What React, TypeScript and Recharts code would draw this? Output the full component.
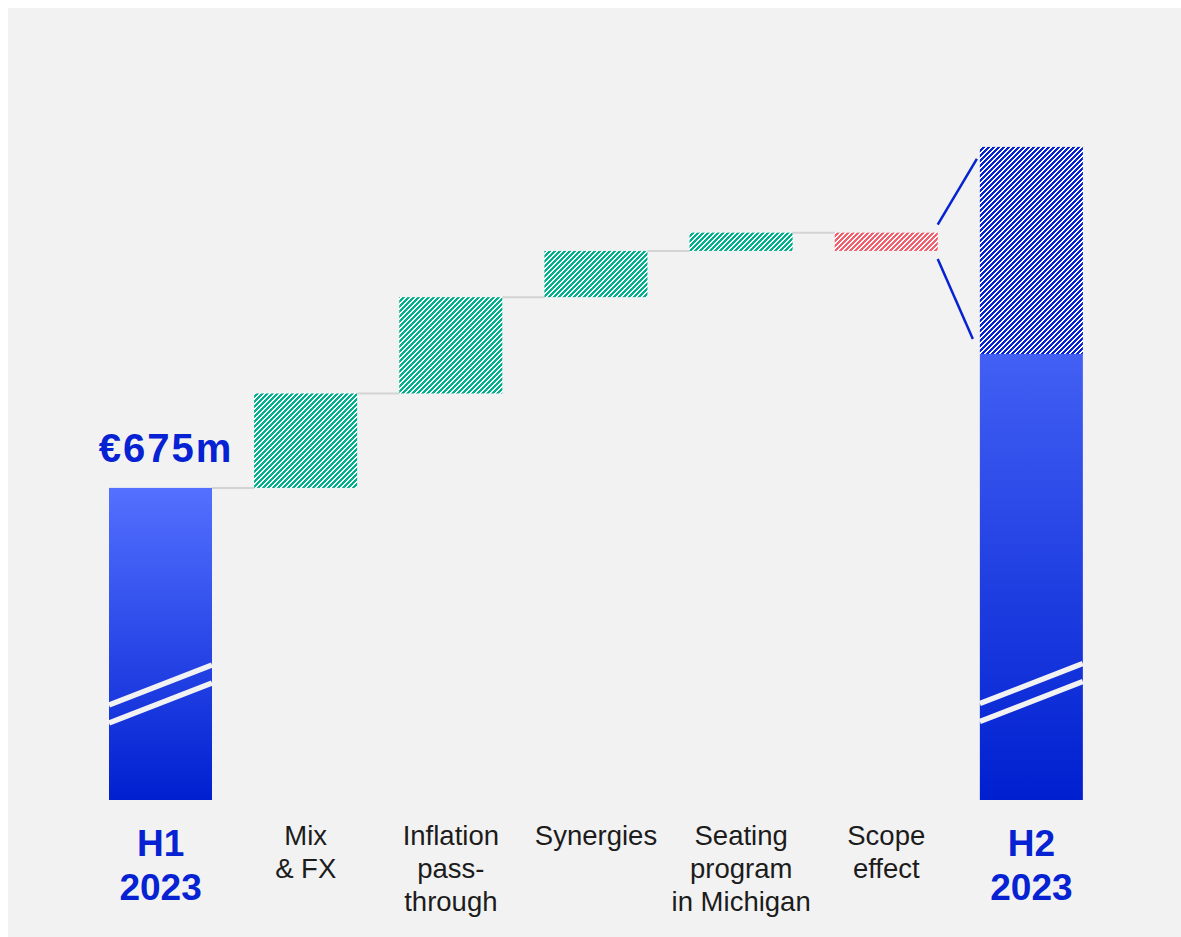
import { BarChart, Bar, XAxis, YAxis, LabelList } from "recharts";

const categories = [
  "H1\n2023",
  "Mix\n& FX",
  "Inflation\npass-\nthrough",
  "Synergies",
  "Seating\nprogram\nin Michigan",
  "Scope\neffect",
  "H2\n2023",
];
const h1Value = 675;
const bridgeDeltas = [98, 100, 48, 19, -19];
const h2Solid = 814;
const h2Hatched = 215;
const h1Label = "€675m";

const AXIS_MIN = 351;
const AXIS_MAX = 1100;

const W = 1173;
const H = 929;
const MARGIN = { top: 70.5, right: 77, bottom: 7, left: 80 };
const BAR_SIZE = 103;
const BAND = (W - MARGIN.left - MARGIN.right) / categories.length;
const GAP = BAND - BAR_SIZE;

const BLUE = "#0622d2";
const GREEN = "#00b08c";
const RED = "#f0606e";
const CONNECTOR = "#d3d3d3";
const FONT = "'Liberation Sans', Arial, sans-serif";

// waterfall rows: invisible base + visible pieces
type Row = { name: string; kind: string; base: number; total: number; up: number; down: number; hatch: number };
const rows: Row[] = [];
let level = h1Value;
rows.push({ name: categories[0], kind: "total", base: 0, total: h1Value, up: 0, down: 0, hatch: 0 });
const levels: number[] = [];
bridgeDeltas.forEach((d, i) => {
  const next = level + d;
  levels.push(next);
  rows.push({
    name: categories[i + 1],
    kind: "step",
    base: Math.min(level, next),
    total: 0,
    up: d > 0 ? d : 0,
    down: d < 0 ? -d : 0,
    hatch: 0,
  });
  level = next;
});
rows.push({ name: categories[6], kind: "total", base: 0, total: h2Solid, up: 0, down: 0, hatch: h2Hatched });

const scopeTop = levels[levels.length - 2];
const scopeBottom = levels[levels.length - 1];

// solid totals: bar is clipped at the axis floor, break marks sit above it
const TotalShape = (props: any) => {
  const { x, y, width, height, index } = props;
  if (!height || height <= 0) return <g />;
  const floorY = y + height;
  const off = index === 0 ? 0 : 1.5;
  return (
    <g>
      <rect x={x} y={y} width={width} height={height} fill={index === 0 ? "url(#gradH1)" : "url(#gradH2)"} />
      <line x1={x} y1={floorY - 95 - off} x2={x + width} y2={floorY - 135 - off} stroke="#f2f2f2" strokeWidth={5.5} />
      <line x1={x} y1={floorY - 77 - off} x2={x + width} y2={floorY - 117 - off} stroke="#f2f2f2" strokeWidth={5.5} />
      {index === 0 && (
        <line x1={x + width} y1={y} x2={x + width + GAP} y2={y} stroke={CONNECTOR} strokeWidth={2} />
      )}
    </g>
  );
};

const UpShape = (props: any) => {
  const { x, y, width, height } = props;
  if (!height || height <= 0) return <g />;
  return (
    <g>
      <rect x={x} y={y} width={width} height={height} fill="url(#hatchGreen)" />
      <line x1={x + width} y1={y} x2={x + width + GAP} y2={y} stroke={CONNECTOR} strokeWidth={2} />
    </g>
  );
};

const DownShape = (props: any) => {
  const { x, y, width, height } = props;
  if (!height || height <= 0) return <g />;
  return <rect x={x} y={y} width={width} height={height} fill="url(#hatchRed)" />;
};

const HatchShape = (props: any) => {
  const { x, y, width, height } = props;
  if (!height || height <= 0) return <g />;
  const ppu = height / h2Hatched;
  const topValue = h2Solid + h2Hatched;
  const yOf = (v: number) => y + (topValue - v) * ppu;
  return (
    <g>
      <rect x={x} y={y} width={width} height={height} fill="url(#hatchBlue)" />
      <line x1={x - GAP} y1={yOf(scopeTop) - 8} x2={x - 3} y2={y + 12} stroke={BLUE} strokeWidth={2.5} />
      <line x1={x - GAP} y1={yOf(scopeBottom) + 8} x2={x - 7} y2={y + height - 15} stroke={BLUE} strokeWidth={2.5} />
    </g>
  );
};

const CategoryTick = (props: any) => {
  const { x, y, payload, index } = props;
  const lines = String(payload.value).split("\n");
  const isTotal = index === 0 || index === categories.length - 1;
  if (isTotal) {
    return (
      <text x={x} y={y} textAnchor="middle" fill={BLUE} fontFamily={FONT} fontWeight="bold" fontSize={37}>
        {lines.map((l, i) => (
          <tspan key={i} x={x} y={y + 56 + i * 44}>
            {l}
          </tspan>
        ))}
      </text>
    );
  }
  return (
    <text x={x} y={y} textAnchor="middle" fill="#1c1c1c" fontFamily={FONT} fontSize={27.5}>
      {lines.map((l, i) => (
        <tspan key={i} x={x} y={y + 45 + i * 33}>
          {l}
        </tspan>
      ))}
    </text>
  );
};

const StartLabel = (props: any) => {
  const { x, y, width, index } = props;
  if (index !== 0) return null;
  return (
    <text x={x + width / 2 + 5.5} y={y - 26} textAnchor="middle" fill={BLUE} fontFamily={FONT} fontWeight="bold" fontSize={40} letterSpacing={2}>
      {h1Label}
    </text>
  );
};

const stripe = "M-1,1 l2,-2 M0,5 l5,-5 M4,6 l2,-2";

export default function App() {
  return (
    <div style={{ position: "fixed", left: 8, top: 8, width: W, height: H, background: "#f2f2f2" }}>
      <svg width={0} height={0} style={{ position: "absolute" }}>
        <defs>
          <linearGradient id="gradH1" x1="0" y1="0" x2="0" y2="1">
            <stop offset="0%" stopColor="#5470ff" />
            <stop offset="100%" stopColor="#0020d0" />
          </linearGradient>
          <linearGradient id="gradH2" x1="0" y1="0" x2="0" y2="1">
            <stop offset="0%" stopColor="#4260f4" />
            <stop offset="100%" stopColor="#0020d0" />
          </linearGradient>
          <pattern id="hatchGreen" patternUnits="userSpaceOnUse" width="5" height="5">
            <rect width="5" height="5" fill="#ffffff" />
            <path d={stripe} stroke={GREEN} strokeWidth={2.2} shapeRendering="crispEdges" />
          </pattern>
          <pattern id="hatchRed" patternUnits="userSpaceOnUse" width="5" height="5">
            <rect width="5" height="5" fill="#ffffff" />
            <path d={stripe} stroke={RED} strokeWidth={2.2} shapeRendering="crispEdges" />
          </pattern>
          <pattern id="hatchBlue" patternUnits="userSpaceOnUse" width="5" height="5">
            <rect width="5" height="5" fill="#ffffff" />
            <path d={stripe} stroke={BLUE} strokeWidth={2.2} shapeRendering="crispEdges" />
          </pattern>
        </defs>
      </svg>
      <BarChart width={W} height={H} data={rows} margin={MARGIN} barSize={BAR_SIZE}>
        <XAxis
          dataKey="name"
          height={130}
          axisLine={false}
          tickLine={false}
          tickSize={0}
          tickMargin={0}
          interval={0}
          tick={<CategoryTick />}
        />
        <YAxis hide domain={[AXIS_MIN, AXIS_MAX]} allowDataOverflow />
        <Bar dataKey="base" stackId="w" fill="none" isAnimationActive={false} />
        <Bar dataKey="total" stackId="w" shape={<TotalShape />} isAnimationActive={false}>
          <LabelList dataKey="total" content={<StartLabel />} />
        </Bar>
        <Bar dataKey="up" stackId="w" shape={<UpShape />} isAnimationActive={false} />
        <Bar dataKey="down" stackId="w" shape={<DownShape />} isAnimationActive={false} />
        <Bar dataKey="hatch" stackId="w" shape={<HatchShape />} isAnimationActive={false} />
      </BarChart>
    </div>
  );
}
